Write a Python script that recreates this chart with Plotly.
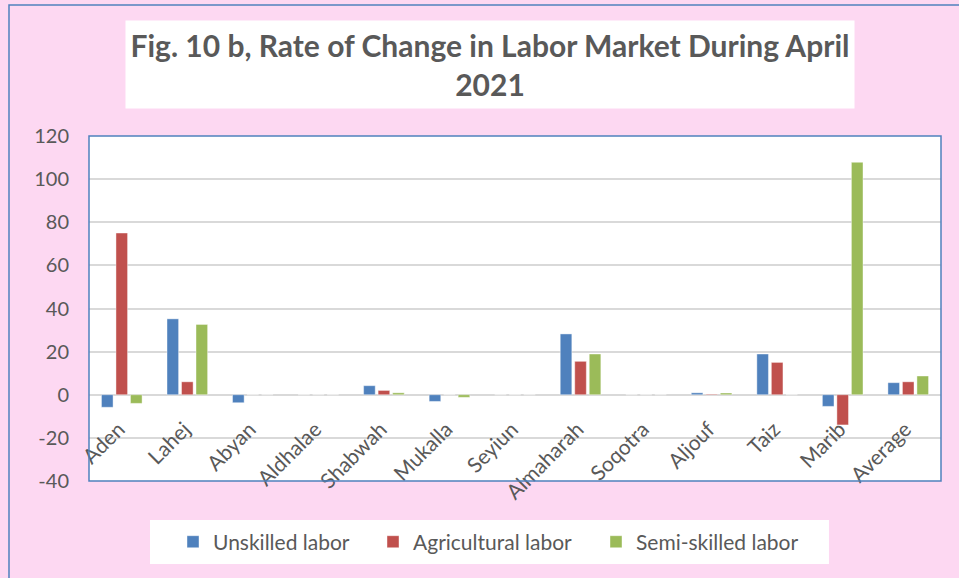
import plotly.graph_objects as go

categories = ["Aden", "Lahej", "Abyan", "Aldhalae", "Shabwah", "Mukalla", "Seyiun",
              "Almaharah", "Soqotra", "Aljouf", "Taiz", "Marib", "Average"]
unskilled = [-5.8, 35.2, -3.7, 0, 4.2, -3.1, 0, 28.2, 0, 0.9, 18.9, -5.4, 5.6]
agricultural = [75.0, 6.0, 0, 0, 2.0, 0, 0, 15.5, 0, 0.3, 15.0, -14.0, 6.0]
semi_skilled = [-4.0, 32.6, 0, 0, 0.9, -1.2, 0, 18.9, 0, 0.8, 0, 107.8, 8.7]
y_ticks = [-40, -20, 0, 20, 40, 60, 80, 100, 120]
y_tick_labels = ["-40", "-20", "0", "20", "40", "60", "80", "100", "120"]

series = [
    ("Unskilled labor", unskilled, "#4F81BD", "legend"),
    ("Agricultural labor", agricultural, "#C0504D", "legend2"),
    ("Semi-skilled labor", semi_skilled, "#9BBB59", "legend3"),
]

TXT = "#595959"
FONT = "Lato"
PINK = "#FDD8F2"
BLUE = "#4F81BD"

fig = go.Figure()
for name, vals, col, leg in series:
    fig.add_trace(go.Bar(
        x=categories, y=vals, name=name, legend=leg,
        marker=dict(color=col, line=dict(color="rgba(255,255,255,0.6)", width=0.7)),
    ))

leg_font = dict(family=FONT, size=21, color=TXT)
def leg(xpos):
    return dict(orientation="h", x=xpos, xanchor="left", y=-0.177, yanchor="middle",
                bgcolor="rgba(0,0,0,0)", font=leg_font, borderwidth=0)

fig.update_layout(
    width=959, height=578,
    paper_bgcolor=PINK, plot_bgcolor="white",
    margin=dict(l=89, r=18, t=136, b=97, autoexpand=False),
    barmode="group", bargap=0.336, bargroupgap=0.2,
    font=dict(family=FONT, color=TXT, size=20),
    showlegend=True,
    legend=leg((173 - 89) / 852),
    legend2=leg((373 - 89) / 852),
    legend3=leg((596 - 89) / 852),
    xaxis=dict(
        anchor="free", position=0.20, showline=False, showgrid=False, zeroline=False,
        tickangle=-45, tickfont=dict(family=FONT, size=21, color=TXT),
        ticks="", automargin=False, ticklabelshift=-3,
    ),
    yaxis=dict(
        range=[-40, 120], tickvals=y_ticks, ticktext=y_tick_labels,
        showgrid=True, gridcolor="#D9D9D9", gridwidth=1.5,
        zeroline=True, zerolinecolor="#D9D9D9", zerolinewidth=1.5, showline=False,
        tickfont=dict(family=FONT, size=20, color=TXT), ticks="", ticklabelstandoff=19,
        automargin=False,
    ),
    shapes=[
        dict(type="rect", xref="paper", yref="paper", x0=0, x1=1, y0=0, y1=1,
             line=dict(color=BLUE, width=1.5), fillcolor="rgba(0,0,0,0)", layer="above"),
        dict(type="rect", xref="paper", yref="paper", x0=-0.0939, x1=1.03, y0=-0.31, y1=1.3797,
             line=dict(color=BLUE, width=1.5), fillcolor="rgba(0,0,0,0)", layer="below"),
        dict(type="rect", xref="paper", yref="paper", x0=0.0716, x1=0.8685, y0=-0.2406, y1=-0.113,
             line=dict(width=0), fillcolor="white", layer="below"),
    ],
    annotations=[
        dict(text="<b>Fig. 10 b, Rate of Change in Labor Market During April<br>2021</b>",
             xref="paper", yref="paper", x=0.4707, y=1.2072, xanchor="center", yanchor="middle",
             showarrow=False, bgcolor="white", width=728, height=87, borderpad=0,
             font=dict(family=FONT, size=30, color=TXT)),
    ],
)

fig.write_html("out.html", config={"displayModeBar": False},
               post_script="document.body.style.margin='0';document.body.style.padding='0';")
